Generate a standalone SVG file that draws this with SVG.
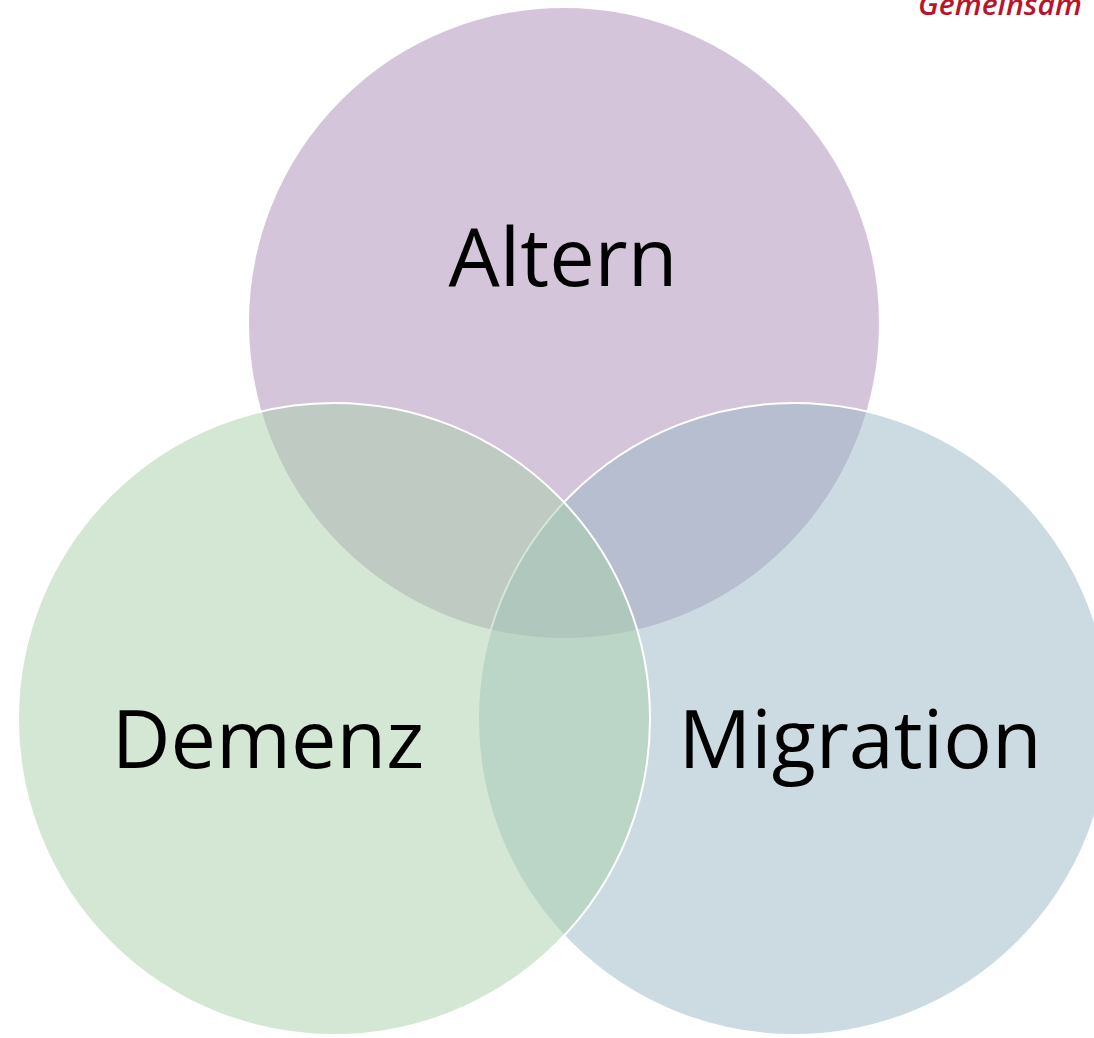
<svg xmlns="http://www.w3.org/2000/svg" width="1094" height="1038" viewBox="0 0 1094 1038">
  <style>
    .c { stroke: #FFFFFF; stroke-width: 2; fill-opacity: 0.5; }
    .lbl { font-family: "Open Sans", "Liberation Sans", sans-serif; font-size: 81px; fill: #000000; text-anchor: middle; }
    .brand { font-family: "Open Sans", "Liberation Sans", sans-serif; font-style: italic; font-weight: 600; font-size: 29px; fill: #B8152C; }
  </style>
  <rect x="0" y="0" width="1094" height="1038" fill="#FFFFFF"/>
  <text class="brand" x="918" y="15" textLength="164" lengthAdjust="spacingAndGlyphs">Gemeinsam</text>
  <g id="altern">
    <circle class="c" cx="564" cy="323" r="316" fill="#AB8BB5"/>
  </g>
  <g id="migration">
    <circle class="c" cx="794" cy="719" r="316" fill="#99B7C5"/>
  </g>
  <g id="demenz">
    <circle class="c" cx="334" cy="719" r="316" fill="#A9CFA9"/>
  </g>
  <g id="labels">
    <text class="lbl" x="563" y="286">Altern</text>
    <text class="lbl" x="268" y="768">Demenz</text>
    <text class="lbl" x="860" y="768">Migration</text>
  </g>
  <g id="connectors"></g>
</svg>
